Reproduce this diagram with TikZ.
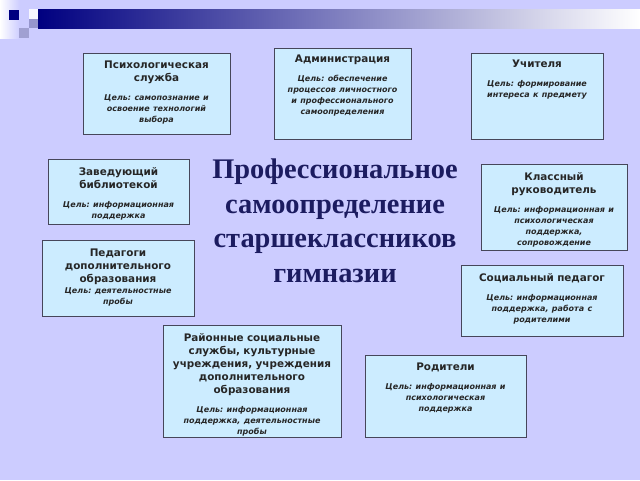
\documentclass[tikz,border=0pt]{standalone}
\usepackage{fontspec}
\setmainfont{DejaVu Sans}
\newfontfamily\titlefont{Liberation Serif}
\usepackage{tikz}
\usepackage{xcolor}

\definecolor{slidebg}{RGB}{204,204,255}
\definecolor{boxfill}{RGB}{204,236,255}
\definecolor{boxline}{RGB}{70,70,90}
\definecolor{titleblue}{RGB}{28,28,96}
\definecolor{barnavy}{RGB}{0,0,128}
\definecolor{squaremid}{RGB}{150,150,205}
\definecolor{squarelow}{RGB}{160,160,210}

\newcommand{\head}[1]{{\fontsize{10.4}{13}\selectfont\bfseries #1\par}}
\newcommand{\goal}[1]{{\fontsize{8}{11}\selectfont\bfseries\itshape #1\par}}

\begin{document}
\frenchspacing
\begin{tikzpicture}[x=1pt,y=-1pt,
  box/.style={draw=boxline,fill=boxfill,line width=0.8pt},
  boxtext/.style={anchor=north,align=center,inner sep=0pt,text=black!85,text width=175pt}]

% Slide background
\fill[slidebg] (0,0) rectangle (640,480);
\useasboundingbox (0,0) rectangle (640,480);

% Top decoration
\shade[left color=white,right color=slidebg] (0,0) rectangle (20,38);
\shade[left color=barnavy,right color=white] (38,9) rectangle (640,28);
\fill[barnavy] (9,10) rectangle (19,20);
\fill[white!85!slidebg] (29,9) rectangle (38,19);
\fill[squaremid] (29,19) rectangle (38,28);
\fill[squarelow] (19,28) rectangle (29,38);

% Boxes
\draw[box] (83,53) rectangle (230,134);    % psychological service
\draw[box] (274,48) rectangle (411,139);   % administration
\draw[box] (471,53) rectangle (603,139);   % teachers
\draw[box] (48,159) rectangle (189,224);   % librarian
\draw[box] (42,240) rectangle (194,316);   % additional education
\draw[box] (481,164) rectangle (627,250);  % class teacher
\draw[box] (461,265) rectangle (623,336);  % social pedagogue
\draw[box] (163,325) rectangle (341,437);  % district services
\draw[box] (365,355) rectangle (526,437);  % parents

% Box texts
\node[boxtext] (psy) at (156.5,61) {\head{Психологическая\\служба}\vspace{8pt}
  \goal{Цель: самопознание и\\освоение технологий\\выбора}};
\node[boxtext] (admin) at (342.5,55) {\head{Администрация}\vspace{8pt}
  \goal{Цель: обеспечение\\процессов личностного\\и профессионального\\самоопределения}};
\node[boxtext] (teach) at (537,60) {\head{Учителя}\vspace{8pt}
  \goal{Цель: формирование\\интереса к предмету}};
\node[boxtext] (lib) at (118.5,167) {\head{Заведующий\\библиотекой}\vspace{8pt}
  \goal{Цель: информационная\\поддержка}};
\node[boxtext] (extra) at (118,249) {\head{Педагоги\\дополнительного\\образования}
  \goal{Цель: деятельностные\\пробы}};
\node[boxtext] (form) at (554,172) {\head{Классный\\руководитель}\vspace{8pt}
  \goal{Цель: информационная и\\психологическая\\поддержка,\\сопровождение}};
\node[boxtext] (social) at (542,273) {\head{Социальный педагог}\vspace{8pt}
  \goal{Цель: информационная\\поддержка, работа с\\родителими}};
\node[boxtext] (district) at (252,333) {\head{Районные социальные\\службы, культурные\\учреждения, учреждения\\дополнительного\\образования}\vspace{8pt}
  \goal{Цель: информационная\\поддержка, деятельностные\\пробы}};
\node[boxtext] (parents) at (445.5,363) {\head{Родители}\vspace{8pt}
  \goal{Цель: информационная и\\психологическая\\поддержка}};

% Title
\node[align=center,text=titleblue,font=\titlefont\bfseries\fontsize{28.4}{34.5}\selectfont]
  (title) at (335,221) {Профессиональное\\самоопределение\\старшеклассников\\гимназии};

\end{tikzpicture}
\end{document}
